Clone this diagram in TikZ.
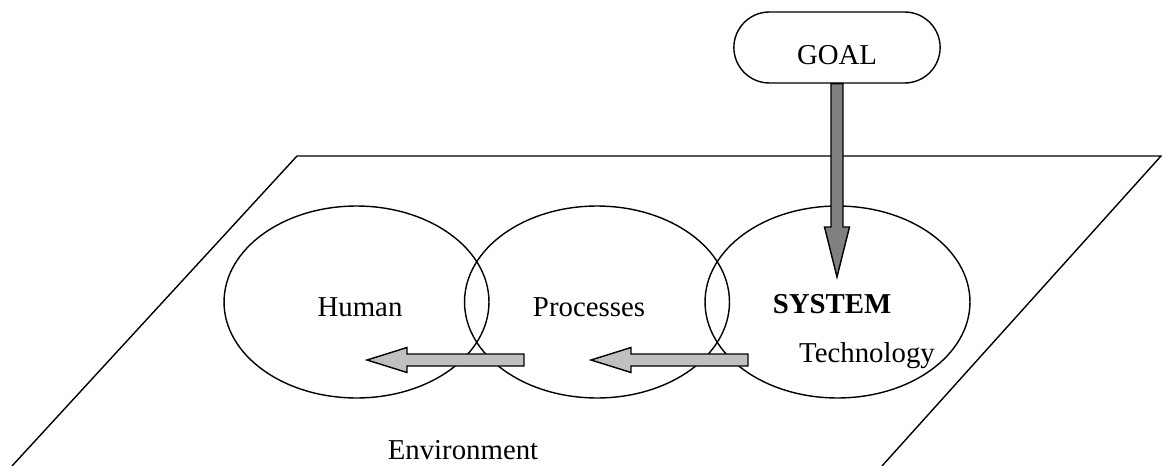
\documentclass[tikz,border=0pt]{standalone}
\usepackage{fontspec}
\setmainfont{Liberation Serif}
\usetikzlibrary{calc,shapes.geometric,shapes.misc}
\definecolor{arrdark}{RGB}{128,128,128}
\definecolor{arrlight}{RGB}{192,192,192}
\tikzset{
  outline/.style={draw, line width=0.8pt},
  zone/.style={outline, ellipse, minimum width=5.3cm, minimum height=3.84cm, inner sep=0pt},
  goalbox/.style={outline, rounded rectangle, minimum width=4.36cm, minimum height=1.42cm, text height=0.7cm, font=\fontsize{16.4}{20}\selectfont},
  txt/.style={inner sep=0pt, anchor=base, font=\fontsize{16.4}{20}\selectfont}
}
% block arrow: tail, tip, shaft half width, head half width, head length, fill
\newcommand\fatarrow[6]{%
  \coordinate (fa-base) at ($(#2)!#5!(#1)$);
  \filldraw[outline, fill=#6] ($(#1)!#3!90:(#2)$) -- ($(fa-base)!#3!90:(#2)$)
    -- ($(fa-base)!#4!90:(#2)$) -- (#2) -- ($(fa-base)!#4!-90:(#2)$)
    -- ($(fa-base)!#3!-90:(#2)$) -- ($(#1)!#3!-90:(#2)$) -- cycle;
}
\begin{document}
\begin{tikzpicture}[x=0.02cm, y=-0.02cm]
  \useasboundingbox (0,0) rectangle (1162,466);
  % environment plane
  \draw[outline] (12,466) -- (297,156) -- (1161,156) -- (882,466);
  \node[txt] (env) at (463,459) {Environment};
  % the three parts
  \node[zone] (human) at (356.5,302) {};
  \node[zone] (proc) at (597,302) {};
  \node[zone] (sys) at (837.5,302) {};
  \node[txt] at (360,316) {Human};
  \node[txt] at (589,316) {Processes};
  \node[txt, font=\fontsize{16.4}{20}\selectfont\bfseries] at (832,313) {SYSTEM};
  \node[txt] at (867,362) {Technology};
  % goal
  \node[goalbox] (goal) at (837,47.5) {GOAL};
  \coordinate (systip) at (837,277);
  \coordinate (a1tail) at (524,360);
  \coordinate (a1tip) at (367,360);
  \coordinate (a2tail) at (748,360);
  \coordinate (a2tip) at (591,360);
  \fatarrow{goal.south}{systip}{0.12cm}{0.25cm}{1.0cm}{arrdark}
  \fatarrow{a1tail}{a1tip}{0.12cm}{0.25cm}{0.8cm}{arrlight}
  \fatarrow{a2tail}{a2tip}{0.12cm}{0.25cm}{0.8cm}{arrlight}
\end{tikzpicture}
\end{document}
